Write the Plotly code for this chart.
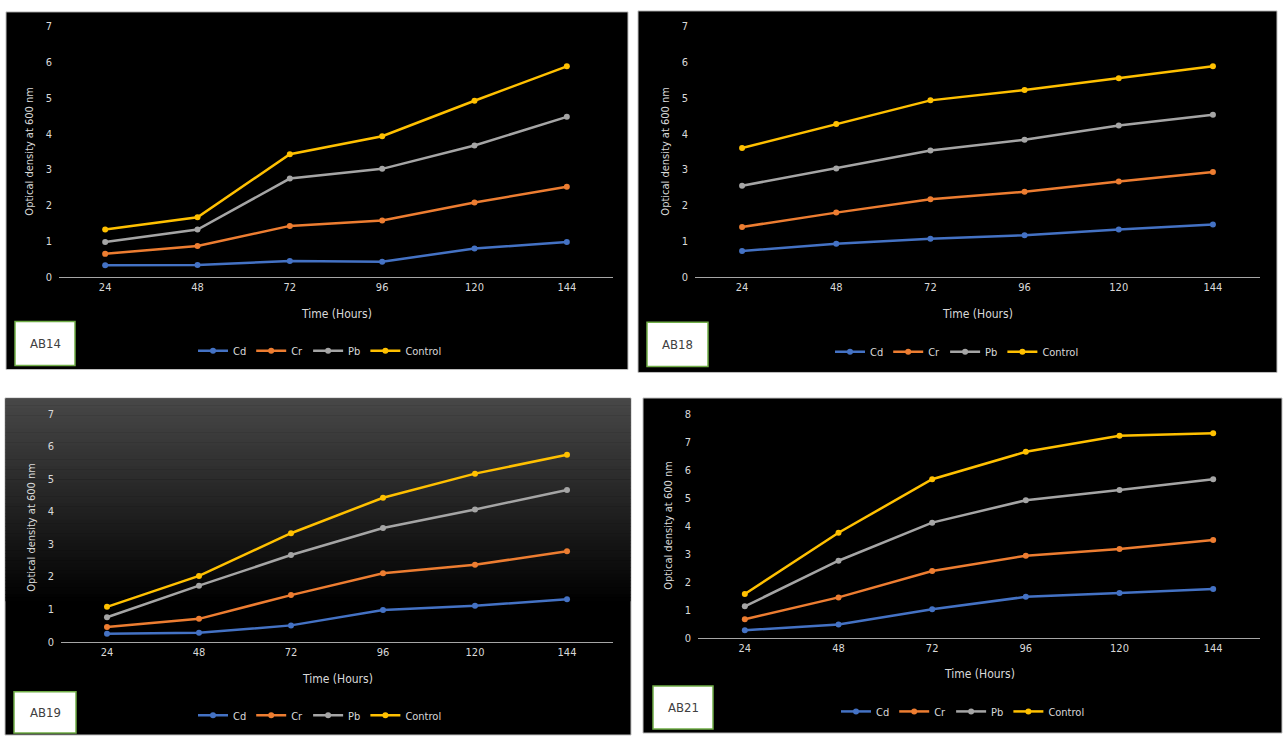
import plotly.graph_objects as go

# ---- data -------------------------------------------------------------
hours = ["24", "48", "72", "96", "120", "144"]
series_names = ["Cd", "Cr", "Pb", "Control"]

ab14_cd = [0.33, 0.34, 0.45, 0.43, 0.80, 0.98]
ab14_cr = [0.65, 0.87, 1.43, 1.58, 2.08, 2.52]
ab14_pb = [0.98, 1.33, 2.75, 3.02, 3.67, 4.47]
ab14_control = [1.33, 1.67, 3.43, 3.93, 4.92, 5.88]

ab18_cd = [0.73, 0.93, 1.07, 1.17, 1.33, 1.47]
ab18_cr = [1.40, 1.80, 2.17, 2.38, 2.67, 2.93]
ab18_pb = [2.55, 3.03, 3.53, 3.83, 4.23, 4.53]
ab18_control = [3.60, 4.27, 4.93, 5.22, 5.55, 5.88]

ab19_cd = [0.24, 0.27, 0.50, 0.97, 1.10, 1.30]
ab19_cr = [0.45, 0.70, 1.43, 2.10, 2.36, 2.78]
ab19_pb = [0.75, 1.72, 2.66, 3.49, 4.06, 4.66]
ab19_control = [1.07, 2.02, 3.33, 4.42, 5.16, 5.74]

ab21_cd = [0.27, 0.47, 1.02, 1.46, 1.60, 1.74]
ab21_cr = [0.66, 1.44, 2.38, 2.93, 3.17, 3.49]
ab21_pb = [1.12, 2.75, 4.11, 4.91, 5.28, 5.66]
ab21_control = [1.56, 3.75, 5.66, 6.64, 7.21, 7.30]

strain_labels = ["AB14", "AB18", "AB19", "AB21"]
y_max = [7, 7, 7, 8]

# ---- styling ----------------------------------------------------------
W, H = 1286, 742
COLORS = ["#4472C4", "#ED7D31", "#A5A5A5", "#FFC000"]
TEXT = "#d9d9d9"
FONT = "Liberation Sans Narrow, DejaVu Sans Condensed, Arial Narrow, sans-serif"


def px_x(v):
    return v / W


def px_y(v):
    return 1 - v / H


# panel frames (left, top, right, bottom) in pixels
frames = [(6, 6, 628, 370), (638, 5, 1277, 373), (5, 399, 631, 742), (643, 399, 1282, 740)]
# plot areas (x0, x1, y_top, y_bottom) in pixels
plots = [(59, 613, 20.5, 276), (695, 1260, 20.5, 276), (61, 613, 415, 647), (698, 1260, 415, 643)]
# x-title y, legend centre, label-box rect
xtitle_y = [314, 314, 685, 680]
legend_pos = [(320, 351), (957, 352), (320, 722), (963, 718)]
label_boxes = [(15, 321, 75, 366), (647, 322, 708, 367), (14, 698, 76, 740), (653, 692, 713, 736)]

panels = [
    [ab14_cd, ab14_cr, ab14_pb, ab14_control],
    [ab18_cd, ab18_cr, ab18_pb, ab18_control],
    [ab19_cd, ab19_cr, ab19_pb, ab19_control],
    [ab21_cd, ab21_cr, ab21_pb, ab21_control],
]

fig = go.Figure()
shapes = []
annotations = []
layout = {}

for i, (frame, plot, values) in enumerate(zip(frames, plots, panels)):
    n = "" if i == 0 else str(i + 1)
    legend_id = "legend" + n
    l, t, r, b = frame

    # panel background
    shapes.append(dict(type="rect", xref="paper", yref="paper", layer="below",
                       x0=px_x(l), x1=px_x(r), y0=px_y(b), y1=px_y(t),
                       fillcolor="#000000", line=dict(color="#bfbfbf", width=1)))
    if i == 2:
        # soft grey-to-black vertical gradient at the top of this panel
        steps = 60
        span = (b - t) * 0.6
        for k in range(steps):
            frac = k / steps
            g = int(round(0x47 * (1 - frac)))
            shapes.append(dict(type="rect", xref="paper", yref="paper", layer="below",
                               x0=px_x(l + 0.5), x1=px_x(r - 0.5),
                               y0=px_y(t + 0.5 + span * (k + 1) / steps + 0.5),
                               y1=px_y(t + 0.5 + span * k / steps),
                               fillcolor=f"rgb({g},{g},{g})", line=dict(width=0)))

    for name, color, ys in zip(series_names, COLORS, values):
        fig.add_trace(go.Scatter(
            x=hours, y=ys, name=name, mode="lines+markers",
            line=dict(color=color, width=2.5),
            marker=dict(color=color, size=6, symbol="circle"),
            xaxis="x" + n, yaxis="y" + n, legend=legend_id,
        ))

    x0, x1, yt, yb = plot
    layout["xaxis" + n] = dict(
        domain=[px_x(x0), px_x(x1)], anchor="y" + n, type="category",
        range=[-0.5, 5.5], showgrid=False, zeroline=False,
        showline=True, linecolor="#a6a6a6", linewidth=1, ticks="",
        tickfont=dict(family=FONT, size=11, color=TEXT), fixedrange=True,
    )
    layout["yaxis" + n] = dict(
        domain=[px_y(yb), px_y(yt)], anchor="x" + n,
        range=[0, y_max[i]], dtick=1, showgrid=False, zeroline=False,
        showline=False, ticks="", ticklabelstandoff=6,
        tickfont=dict(family=FONT, size=11, color=TEXT), fixedrange=True,
    )
    lx, ly = legend_pos[i]
    layout[legend_id] = dict(
        orientation="h", x=px_x(lx), y=px_y(ly), xanchor="center", yanchor="middle",
        bgcolor="rgba(0,0,0,0)", font=dict(family=FONT, size=11, color=TEXT),
        itemwidth=30, tracegroupgap=0,
    )

    # axis titles
    annotations.append(dict(text="Time (Hours)", xref="paper", yref="paper",
                            x=px_x((x0 + x1) / 2), y=px_y(xtitle_y[i]),
                            showarrow=False, xanchor="center", yanchor="middle",
                            font=dict(family=FONT, size=12, color=TEXT)))
    annotations.append(dict(text="Optical density at 600 nm", xref="paper", yref="paper",
                            x=px_x(x0 - 29), y=px_y((yt + yb) / 2), textangle=-90,
                            showarrow=False, xanchor="center", yanchor="middle",
                            font=dict(family=FONT, size=11, color=TEXT)))

    # strain label box
    bl, bt, br, bb = label_boxes[i]
    shapes.append(dict(type="rect", xref="paper", yref="paper",
                       x0=px_x(bl), x1=px_x(br), y0=px_y(bb), y1=px_y(bt),
                       fillcolor="#ffffff", line=dict(color="#70AD47", width=1.5)))
    annotations.append(dict(text=strain_labels[i], xref="paper", yref="paper",
                            x=px_x((bl + br) / 2), y=px_y((bt + bb) / 2),
                            showarrow=False, xanchor="center", yanchor="middle",
                            font=dict(family=FONT, size=13, color="#404040")))

fig.update_layout(
    width=W, height=H, margin=dict(l=0, r=0, t=0, b=0),
    paper_bgcolor="#ffffff", plot_bgcolor="rgba(0,0,0,0)",
    shapes=shapes, annotations=annotations, showlegend=True,
    **layout,
)

fig.write_html("out.html", config={"displayModeBar": False})
